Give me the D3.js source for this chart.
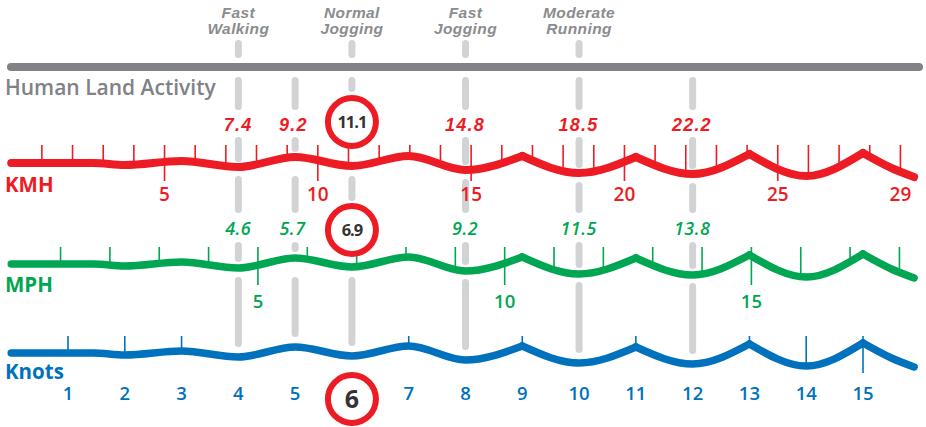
<!DOCTYPE html>
<html>
<head>
<meta charset="utf-8">
<script src="https://cdn.jsdelivr.net/npm/d3@7"></script>
<style>
  body { margin: 0; background: #fff; }
  svg { display: block; }
</style>
</head>
<body>
<svg></svg>
<script>
// speeds of land activities, placed on the knots scale
let activityKnots = [4, 5, 6, 8, 10, 12];
let activityNames = [["Fast", "Walking"], null, ["Normal", "Jogging"], ["Fast", "Jogging"], ["Moderate", "Running"], null];
let kmhMarks = ["7.4", "9.2", "11.1", "14.8", "18.5", "22.2"];
let mphMarks = ["4.6", "5.7", "6.9", "9.2", "11.5", "13.8"];
let highlightKnot = 6;

let kmhTicks = d3.range(1, 30);
let kmhMajor = [5, 10, 15, 20, 25];
let kmhLabels = [5, 10, 15, 20, 25, 29];
let mphTicks = d3.range(1, 19);
let mphMajor = [5, 10, 15];
let mphLabels = [5, 10, 15];
let knotTicks = [1, 2, 3, 7, 9, 11, 13, 14, 15];
let knotMajor = [15];
let knotLabels = d3.range(1, 16);

// wavy ribbon: knot position -> depth below baseline
let waveKnots = [0, 1.45, 2, 3, 4, 5, 6, 7, 8, 9, 10, 11, 12, 13, 14, 15, 15.5, 15.9];
let waveDepth = [0, 0, 2, -2, 4, -6, 3, -7, 7, -7, 10, -6, 11, -9, 13, -10, 5, 14];
let cusps = [9, 11, 13, 15];

let width = 926;
let height = 427;

let red = "#ed1c24";
let green = "#00a651";
let blue = "#0071bc";
let grey = "#808285";
let barGrey = "#d1d3d4";
let dark = "#333333";

let svg = d3.select("svg").attr("width", width).attr("height", height);

let xScale = d3.scaleLinear().domain([1, 15]).range([68, 863]);
let depthScale = d3.scaleLinear().domain(waveKnots).range(waveDepth);

let rows = [
  { name: "KMH", color: red, y: 163, perKnot: 1.852, ticks: kmhTicks, major: kmhMajor, labels: kmhLabels,
    tickTop: 145, majorEnd: 181, labelY: 201, labelSize: 19, nameY: 192, stroke: 8 },
  { name: "MPH", color: green, y: 264, perKnot: 1.15078, ticks: mphTicks, major: mphMajor, labels: mphLabels,
    tickTop: 247, majorEnd: 285, labelY: 308, labelSize: 18.5, nameY: 292, stroke: 7.5 },
  { name: "Knots", color: blue, y: 353, perKnot: 1, ticks: knotTicks, major: knotMajor, labels: knotLabels,
    tickTop: 336, majorEnd: 373, labelY: 400, labelSize: 18.5, nameY: 379, stroke: 7.5 },
];

let lineY = (row, k) => row.y + depthScale(k);

// top grey rule
svg.append("line")
  .attr("x1", 11).attr("x2", 919)
  .attr("y1", 67).attr("y2", 67)
  .attr("stroke", grey).attr("stroke-width", 8).attr("stroke-linecap", "round");

svg.append("text")
  .attr("x", 5).attr("y", 95)
  .attr("font-family", "Open Sans").attr("font-weight", 600).attr("font-size", 21)
  .attr("fill", grey)
  .text("Human Land Activity");

// activity names
activityKnots.forEach((k, i) => {
  if (!activityNames[i]) return;
  let t = svg.append("text")
    .attr("text-anchor", "middle")
    .attr("font-family", "Liberation Sans").attr("font-weight", 700).attr("font-style", "italic")
    .attr("font-size", 15.5).attr("letter-spacing", 0.4)
    .attr("fill", "#8a8c8e");
  activityNames[i].forEach((line, j) => {
    t.append("tspan").attr("x", xScale(k)).attr("y", 17.5 + j * 16).text(line);
  });
});

// grey activity bars, broken around the rule, labels and ribbons
let barSegments = (k, i) => {
  let yR = lineY(rows[0], k), yG = lineY(rows[1], k), yB = lineY(rows[2], k);
  let hl = k === highlightKnot;
  let segs = [];
  if (activityNames[i]) segs.push([40, 58]);
  segs.push([77, hl ? 92 : 110]);
  segs.push([hl ? 154 : 137, yR - 5]);
  segs.push([Math.max(yR + 9, 176), hl ? 201 : 213]);
  if (!hl) segs.push([242, yG - 6]);
  segs.push([Math.max(yG + 8, 277), yB - 10]);
  return segs.filter(s => s[1] - s[0] > 7);
};

let bars = svg.append("g");
activityKnots.forEach((k, i) => {
  bars.selectAll(null)
    .data(barSegments(k, i))
    .enter()
    .append("line")
    .attr("x1", xScale(k)).attr("x2", xScale(k))
    .attr("y1", d => d[0] + 3.5).attr("y2", d => d[1] - 3.5)
    .attr("stroke", barGrey).attr("stroke-width", 7).attr("stroke-linecap", "round");
});

// ticks, ribbons and labels per unit row
let line = d3.line()
  .x(d => xScale(d[0]))
  .curve(d3.curveMonotoneX);

let bounds = [0, ...cusps, waveKnots[waveKnots.length - 1]];

rows.forEach(row => {
  let g = svg.append("g");

  g.selectAll(".tick")
    .data(row.ticks)
    .enter()
    .append("line")
    .attr("x1", d => xScale(d / row.perKnot))
    .attr("x2", d => xScale(d / row.perKnot))
    .attr("y1", row.tickTop)
    .attr("y2", d => row.major.includes(d) ? row.majorEnd : lineY(row, d / row.perKnot))
    .attr("stroke", row.color).attr("stroke-width", 1.6);

  line.y(d => row.y + d[1]);
  for (let i = 0; i < bounds.length - 1; i++) {
    let pts = waveKnots
      .map((k, j) => [k, waveDepth[j]])
      .filter(p => p[0] >= bounds[i] && p[0] <= bounds[i + 1]);
    g.append("path")
      .attr("d", line(pts))
      .attr("fill", "none")
      .attr("stroke", row.color).attr("stroke-width", row.stroke)
      .attr("stroke-linecap", "round").attr("stroke-linejoin", "round");
  }

  g.selectAll(".label")
    .data(row.labels.filter(d => !(row.perKnot === 1 && d === highlightKnot)))
    .enter()
    .append("text")
    .attr("x", d => xScale(d / row.perKnot))
    .attr("y", row.labelY)
    .attr("text-anchor", "middle")
    .attr("font-family", "Open Sans").attr("font-weight", 600).attr("font-size", row.labelSize)
    .attr("fill", row.color)
    .text(d => d);

  g.append("text")
    .attr("x", 5).attr("y", row.nameY)
    .attr("font-family", "Open Sans").attr("font-weight", 700).attr("font-size", 20.5)
    .attr("fill", row.color)
    .text(row.name);
});

// activity speeds in km/h and mph
let hlIndex = activityKnots.indexOf(highlightKnot);

svg.selectAll(".kmh")
  .data(kmhMarks.filter((d, i) => i !== hlIndex))
  .enter()
  .append("text")
  .attr("x", d => xScale(+d / rows[0].perKnot))
  .attr("y", 131)
  .attr("text-anchor", "middle")
  .attr("font-family", "Liberation Sans").attr("font-weight", 700).attr("font-style", "italic")
  .attr("font-size", 18).attr("letter-spacing", 1.2)
  .attr("fill", red)
  .text(d => d);

svg.selectAll(".mph")
  .data(mphMarks.filter((d, i) => i !== hlIndex))
  .enter()
  .append("text")
  .attr("x", d => xScale(+d / rows[1].perKnot))
  .attr("y", 235)
  .attr("text-anchor", "middle")
  .attr("font-family", "Open Sans").attr("font-weight", 600).attr("font-style", "italic")
  .attr("font-size", 18).attr("letter-spacing", 0.5)
  .attr("fill", green)
  .text(d => d);

// highlighted speed: circled in each unit
let circles = [
  { text: kmhMarks[hlIndex], cy: 122, size: 16.5 },
  { text: mphMarks[hlIndex], cy: 230, size: 16.5 },
  { text: String(highlightKnot), cy: 399, size: 25 },
];

let hx = xScale(highlightKnot);
circles.forEach(c => {
  svg.append("circle")
    .attr("cx", hx).attr("cy", c.cy).attr("r", 24)
    .attr("fill", "#fff").attr("stroke", red).attr("stroke-width", 6);
  svg.append("text")
    .attr("x", hx).attr("y", c.cy)
    .attr("dy", "0.36em")
    .attr("text-anchor", "middle")
    .attr("font-family", "Open Sans").attr("font-weight", 700).attr("font-size", c.size)
    .attr("letter-spacing", c.size < 20 ? -1 : 0)
    .attr("fill", dark)
    .text(c.text);
});
</script>
</body>
</html>
